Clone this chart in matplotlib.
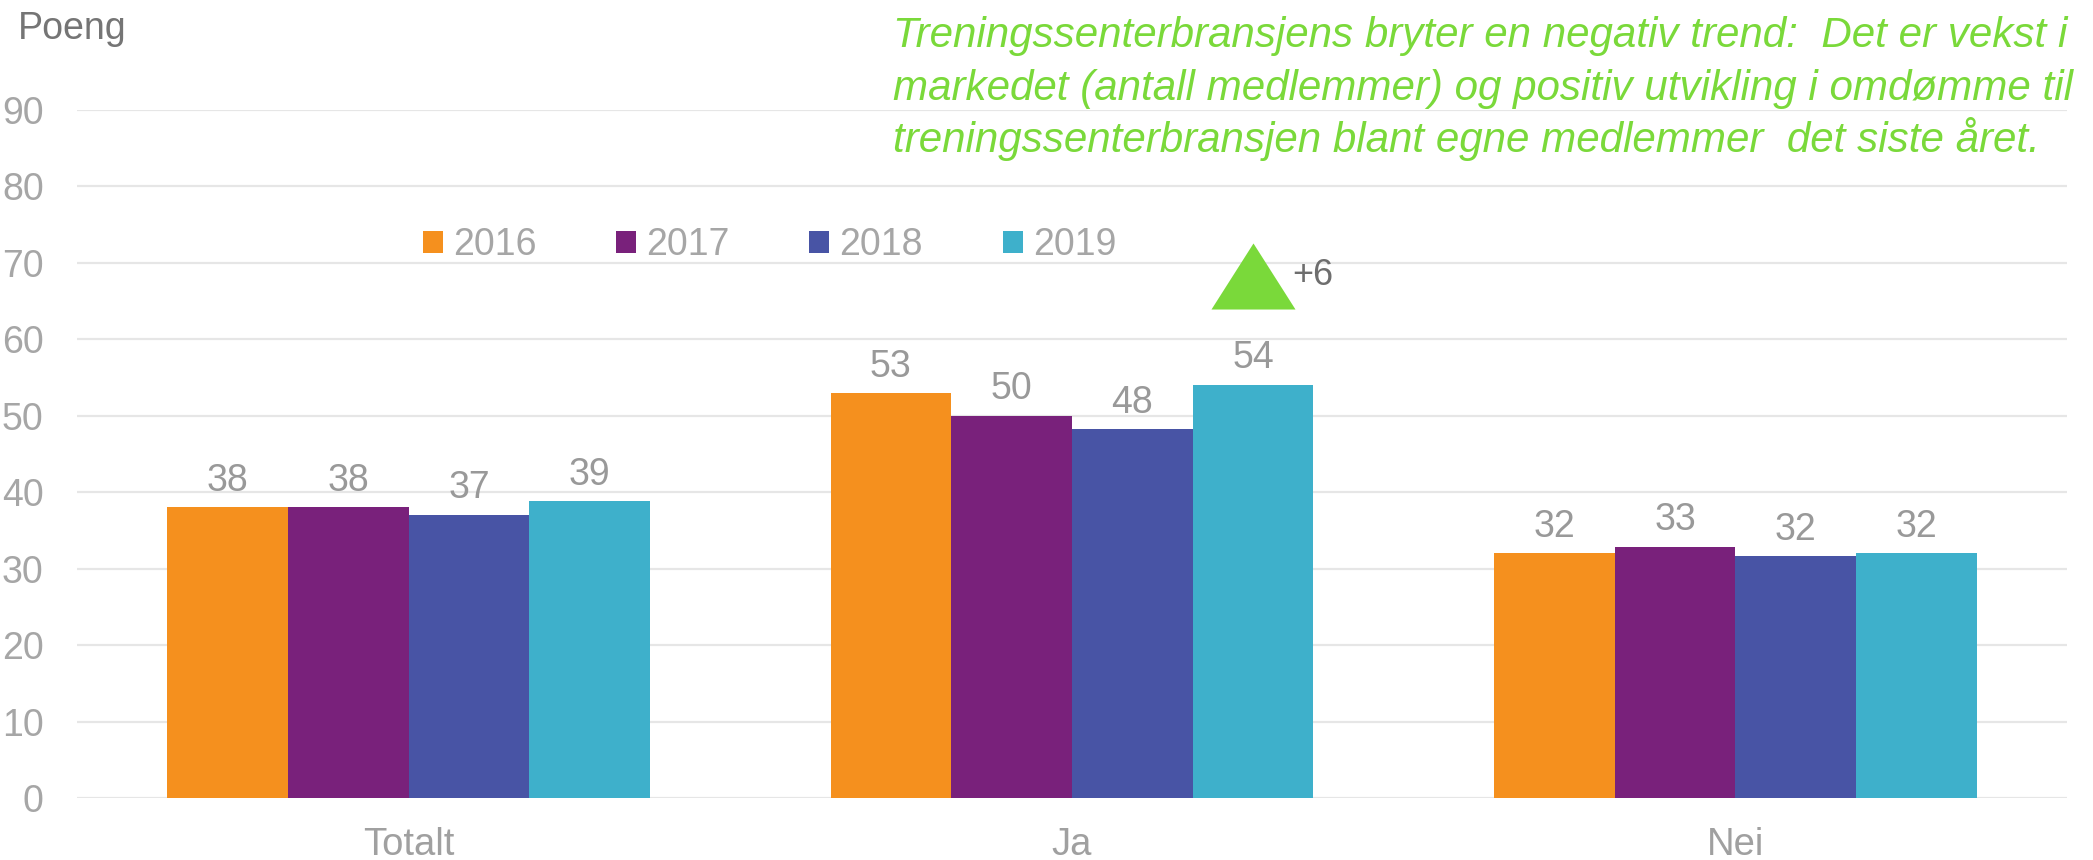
import numpy as np
import matplotlib
matplotlib.use('Agg')
import matplotlib.pyplot as plt
from matplotlib.path import Path

plt.rcParams['font.family'] = ['Liberation Sans', 'DejaVu Sans']

# data
categories = ['Totalt', 'Ja', 'Nei']
years = ['2016', '2017', '2018', '2019']
v2016 = [38.0, 52.9, 32.0]
v2017 = [38.0, 50.0, 32.8]
v2018 = [37.0, 48.2, 31.6]
v2019 = [38.8, 54.0, 32.0]
colors = ['#F5901E', '#79217B', '#4854A5', '#3EB0CB']
yticks = [0, 10, 20, 30, 40, 50, 60, 70, 80, 90]

change_label = '+6'
change_level = 68.3  # height of the green trend marker

note_lines = [
    'Treningssenterbransjens bryter en negativ trend:  Det er vekst i',
    'markedet (antall medlemmer) og positiv utvikling i omdømme til',
    'treningssenterbransjen blant egne medlemmer  det siste året.',
]

fig = plt.figure(figsize=(20.93, 8.6), dpi=100)
ax = fig.add_axes([77 / 2093, 1 - 798 / 860, 1990 / 2093, (798 - 109.7) / 860])

x = np.arange(len(categories))
w = 0.182
series = [v2016, v2017, v2018, v2019]
for i, (vals, yr, col) in enumerate(zip(series, years, colors)):
    xs = x + (i - 1.5) * w
    ax.bar(xs, vals, w, color=col, label=yr, zorder=2)
    for xi, v in zip(xs, vals):
        ax.annotate('%.0f' % v, (xi, v), xytext=(0, 12), textcoords='offset points',
                    ha='center', va='baseline', fontsize=27, color='#999999')

ax.set_xlim(-0.5, 2.5)
ax.set_ylim(0, 90)
ax.set_yticks(yticks)
ax.set_xticks(x)
ax.set_xticklabels(categories)
ax.grid(axis='y', color='#E6E6E6', linewidth=1.6, zorder=0)
ax.set_axisbelow(True)
for s in ax.spines.values():
    s.set_visible(False)
ax.tick_params(axis='y', length=0, pad=24, labelsize=27, labelcolor='#A6A6A6')
ax.tick_params(axis='x', length=0, pad=21, labelsize=27.5, labelcolor='#A0A0A0')

ax.legend(loc='center', bbox_to_anchor=(0.348, 0.8034), ncol=4, frameon=False,
          fontsize=27, labelcolor='#A6A6A6', handlelength=0.53, handleheight=0.53,
          handletextpad=0.27, columnspacing=2.13, borderpad=0)

# green up-triangle above the 2019 bar for "Ja"
tri = Path([(-1, -0.786), (1, -0.786), (0, 0.786), (-1, -0.786)],
           [Path.MOVETO, Path.LINETO, Path.LINETO, Path.CLOSEPOLY])
tx = x[1] + 1.5 * w
ax.plot([tx], [change_level], marker=tri, markersize=60.5, color='#7AD93A',
        markeredgewidth=0, linestyle='none', zorder=3)
ax.annotate(change_label, (tx, change_level), xytext=(28, 0), textcoords='offset points',
            ha='left', va='center', fontsize=26, color='#6E6E6E')

fig.text(18 / 2093, 1 - 39 / 860, 'Poeng', fontsize=27, color='#757575', va='baseline')

for k, line in enumerate(note_lines):
    fig.text(893 / 2093, 1 - (47 + 52.7 * k) / 860, line, fontsize=30.3, style='italic',
             color='#7AD93A', va='baseline', ha='left')

fig.savefig('out.png', dpi=100)
